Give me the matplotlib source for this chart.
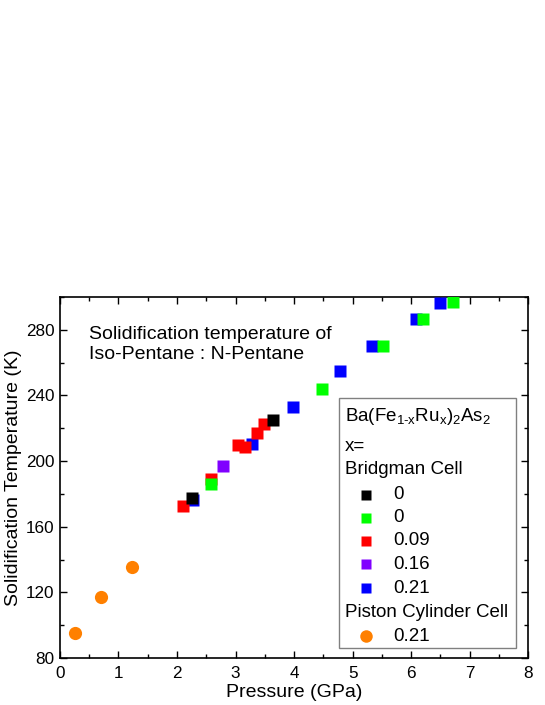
import matplotlib
matplotlib.use("Agg")
import matplotlib.pyplot as plt
from matplotlib.patches import Rectangle
from matplotlib.ticker import MultipleLocator

plt.rcParams['font.family'] = ['Liberation Sans', 'DejaVu Sans']
plt.rcParams['mathtext.fontset'] = 'custom'
plt.rcParams['mathtext.rm'] = 'Liberation Sans'
plt.rcParams['mathtext.it'] = 'Liberation Sans:italic'

# Data (Pressure GPa, Temperature K)
blue_p = [2.28, 3.28, 3.99, 4.79, 5.33, 6.09, 6.50]
blue_t = [176.2, 210.3, 232.7, 255.0, 270.2, 286.9, 296.4]
purple_p = [2.79]
purple_t = [196.9]
red_p = [2.10, 2.58, 3.05, 3.16, 3.36, 3.49]
red_t = [172.7, 188.8, 209.7, 208.7, 217.2, 222.9]
green_p = [2.58, 4.47, 5.52, 6.21, 6.71]
green_t = [185.8, 243.8, 270.2, 286.9, 297.0]
black_p = [2.26, 3.64]
black_t = [177.3, 225.0]
orange_p = [0.256, 0.70, 1.23]
orange_t = [95.2, 117.1, 135.2]

legend_header = [r'Ba(Fe$_{\mathregular{1\text{-}x}}$Ru$_{\mathregular{x}}$)$_{\mathregular{2}}$As$_{\mathregular{2}}$', 'x=', 'Bridgman Cell']
legend_labels = ['0', '0', '0.09', '0.16', '0.21']
legend_colors = ['#000000', '#00ff00', '#ff0000', '#8000ff', '#0000ff']
piston_label = 'Piston Cylinder Cell'
piston_entry = '0.21'
orange = '#ff8000'

fig = plt.figure(figsize=(5.45, 7.05), dpi=100)
ax = fig.add_axes([0.110, 0.0667, 0.859, 0.512])

ms = 8.6
ax.plot(blue_p, blue_t, 's', color='#0000ff', ms=ms, mec='none', zorder=3)
ax.plot(purple_p, purple_t, 's', color='#8000ff', ms=ms, mec='none', zorder=4)
ax.plot(red_p, red_t, 's', color='#ff0000', ms=ms, mec='none', zorder=5)
ax.plot(green_p, green_t, 's', color='#00ff00', ms=ms, mec='none', zorder=6)
ax.plot(black_p, black_t, 's', color='#000000', ms=ms, mec='none', zorder=7)
ax.plot(orange_p, orange_t, 'o', color=orange, ms=9.5, mec='none', zorder=3)

ax.set_xlim(0, 8)
ax.set_ylim(80, 300)
ax.xaxis.set_major_locator(MultipleLocator(1))
ax.xaxis.set_minor_locator(MultipleLocator(0.5))
ax.yaxis.set_major_locator(MultipleLocator(40))
ax.yaxis.set_minor_locator(MultipleLocator(20))
ax.tick_params(which='both', direction='in', top=True, right=True, labelsize=12.3, width=1.0)
ax.tick_params(axis='x', which='major', pad=6)
ax.tick_params(axis='y', which='major', pad=4)
ax.tick_params(which='major', length=5)
ax.tick_params(which='minor', length=3)
for s in ax.spines.values():
    s.set_linewidth(1.2)

ax.set_xlabel('Pressure (GPa)', fontsize=14, labelpad=2)
ax.set_ylabel('Solidification Temperature (K)', fontsize=14, labelpad=3)

ax.text(0.062, 0.92, 'Solidification temperature of\nIso-Pentane : N-Pentane',
        transform=ax.transAxes, fontsize=14, va='top', ha='left', linespacing=1.25)

# Legend box drawn manually
box = Rectangle((0.597, 0.027), 0.377, 0.694, transform=ax.transAxes,
                facecolor='white', edgecolor='#808080', lw=1.0, zorder=10)
ax.add_patch(box)

H = 361.0
def yf(py):
    return (658 - py) / H

lfs = 13.5
xt = (345 - 60) / 468.0
xm = (366 - 60) / 468.0
xl = (393 - 60) / 468.0
header_y = [416, 446.5, 470]
for t, py in zip(legend_header, header_y):
    ax.text(xt, yf(py), t, transform=ax.transAxes, fontsize=lfs, va='center', ha='left', zorder=11)
entry_y = [495, 518, 541, 564.5, 588.5]
for lab, c, py in zip(legend_labels, legend_colors, entry_y):
    ax.plot([xm], [yf(py)], 's', color=c, ms=7.6, mec='none', transform=ax.transAxes, zorder=11, clip_on=False)
    ax.text(xl, yf(py), lab, transform=ax.transAxes, fontsize=lfs, va='center', ha='left', zorder=11)
ax.text(xt, yf(612.5), piston_label, transform=ax.transAxes, fontsize=lfs, va='center', ha='left', zorder=11)
ax.plot([xm], [yf(636.5)], 'o', color=orange, ms=9, mec='none', transform=ax.transAxes, zorder=11, clip_on=False)
ax.text(xl, yf(636.5), piston_entry, transform=ax.transAxes, fontsize=lfs, va='center', ha='left', zorder=11)

fig.savefig('out.png', dpi=100)
